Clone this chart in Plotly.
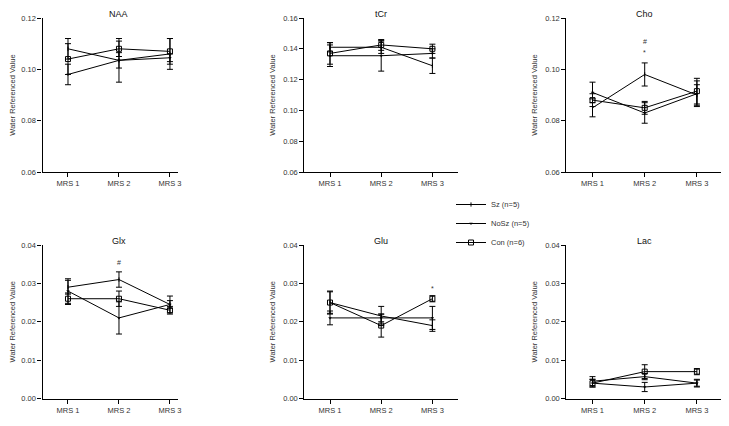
import plotly.graph_objects as go

# ---------------- data ----------------
panels = ["NAA", "tCr", "Cho", "Glx", "Glu", "Lac"]
sessions = ["MRS 1", "MRS 2", "MRS 3"]
session_pos = [1, 2, 3]

sz_means = [
    [0.108, 0.1035, 0.106],
    [0.141, 0.141, 0.129],
    [0.085, 0.098, 0.090],
    [0.029, 0.031, 0.0245],
    [0.025, 0.0215, 0.019],
    [0.0045, 0.0057, 0.004],
]
sz_errs = [
    [0.004, 0.003, 0.006],
    [0.003, 0.004, 0.005],
    [0.0035, 0.0045, 0.004],
    [0.0018, 0.002, 0.0022],
    [0.0028, 0.0025, 0.0015],
    [0.0012, 0.0008, 0.0010],
]
nosz_means = [
    [0.098, 0.1035, 0.1045],
    [0.1355, 0.1355, 0.137],
    [0.091, 0.083, 0.0905],
    [0.028, 0.021, 0.0245],
    [0.021, 0.021, 0.021],
    [0.004, 0.003, 0.004],
]
nosz_errs = [
    [0.004, 0.0085, 0.0015],
    [0.007, 0.010, 0.003],
    [0.004, 0.004, 0.005],
    [0.0032, 0.0042, 0.001],
    [0.0018, 0.001, 0.003],
    [0.001, 0.0012, 0.0008],
]
con_means = [
    [0.104, 0.108, 0.107],
    [0.137, 0.1425, 0.140],
    [0.088, 0.085, 0.0915],
    [0.026, 0.026, 0.023],
    [0.025, 0.019, 0.026],
    [0.004, 0.007, 0.007],
]
con_errs = [
    [0.006, 0.003, 0.005],
    [0.007, 0.0035, 0.003],
    [0.0025, 0.0025, 0.005],
    [0.0015, 0.002, 0.001],
    [0.003, 0.003, 0.0008],
    [0.001, 0.0018, 0.0008],
]
y_ranges = [[0.06, 0.12], [0.06, 0.16], [0.06, 0.12], [0.0, 0.04], [0.0, 0.04], [0.0, 0.04]]
y_dticks = [0.02, 0.02, 0.02, 0.01, 0.01, 0.01]

# significance marks: panel index, session position, value, symbol
sig_panel = [2, 2, 3, 4]
sig_x = [2, 2, 2, 3]
sig_y = [0.1107, 0.1065, 0.0354, 0.0287]
sig_text = ["#", "*", "#", "*"]

series_names = ["Sz (n=5)", "NoSz (n=5)", "Con (n=6)"]

# ---------------- layout geometry ----------------
OFF = 8  # page body margin
W, H = 729 - OFF, 426 - OFF
col_px = [(42.5, 177.6), (304.4, 458.0), (566.4, 723.0)]
col_xrange = [[0.5, 3.15], [0.5, 3.5], [0.5, 3.5]]
row_px = [(18.0, 172.0), (245.0, 398.5)]
title_px_y = [13.5, 241.0]
FONT = "Liberation Sans, Arial"

fig = go.Figure()

marker_styles = [
    dict(symbol="line-ns", size=3, color="black", line=dict(width=1, color="black")),
    dict(symbol="triangle-down", size=3, color="black"),
    dict(symbol="square-open", size=5, color="black", line=dict(width=1, color="black")),
]

for i, name in enumerate(panels):
    r, c = divmod(i, 3)
    ax = "" if i == 0 else str(i + 1)
    means_all = [sz_means[i], nosz_means[i], con_means[i]]
    errs_all = [sz_errs[i], nosz_errs[i], con_errs[i]]
    for s in range(3):
        fig.add_trace(go.Scatter(
            x=session_pos, y=means_all[s],
            mode="lines+markers",
            name=series_names[s],
            legendgroup=series_names[s],
            showlegend=(i == 0),
            line=dict(color="black", width=1),
            marker=marker_styles[s],
            error_y=dict(type="data", array=errs_all[s], visible=True,
                         color="black", thickness=1, width=3),
            xaxis="x" + ax, yaxis="y" + ax,
        ))
    x0, x1 = col_px[c][0] - OFF, col_px[c][1] - OFF
    y0, y1 = row_px[r][0] - OFF, row_px[r][1] - OFF
    fig.layout["xaxis" + ax] = dict(
        domain=[x0 / W, min(x1 / W, 1.0)], anchor="y" + ax, automargin=False,
        range=col_xrange[c], tickmode="array", tickvals=session_pos, ticktext=sessions,
        showline=True, linecolor="black", linewidth=1.2, ticks="outside",
        ticklen=4, tickcolor="black", showgrid=False, zeroline=False,
        tickfont=dict(size=7.5, color="#333", family=FONT),
    )
    fig.layout["yaxis" + ax] = dict(
        domain=[1 - y1 / H, 1 - y0 / H], anchor="x" + ax, automargin=False,
        range=y_ranges[i], dtick=y_dticks[i], tickformat=".2f",
        showline=True, linecolor="black", linewidth=1.2, ticks="outside",
        ticklen=4, tickcolor="black", showgrid=False, zeroline=False,
        tickfont=dict(size=7.5, color="#333", family=FONT),
        title=dict(text="Water Referenced Value", standoff=6,
                   font=dict(size=7.5, color="#333", family=FONT)),
    )
    fig.add_annotation(
        text=name, x=2, xref="x" + ax, y=1 - (title_px_y[r] - OFF) / H, yref="paper",
        showarrow=False, yanchor="middle",
        font=dict(size=9, color="#111", family=FONT),
    )

for p, xv, yv, t in zip(sig_panel, sig_x, sig_y, sig_text):
    ax = "" if p == 0 else str(p + 1)
    fig.add_annotation(text=t, x=xv, y=yv, xref="x" + ax, yref="y" + ax,
                       showarrow=False,
                       font=dict(size=7, color="#333", family=FONT))

fig.update_layout(
    width=W, height=H,
    margin=dict(l=0, r=0, t=0, b=0, autoexpand=False),
    paper_bgcolor="white", plot_bgcolor="white",
    showlegend=True,
    legend=dict(x=(451 - OFF) / W, y=1 - (190 - OFF) / H, xanchor="left", yanchor="top",
                bgcolor="rgba(0,0,0,0)", tracegroupgap=0,
                font=dict(size=7.5, color="#333", family=FONT)),
)

fig.write_html("out.html")
